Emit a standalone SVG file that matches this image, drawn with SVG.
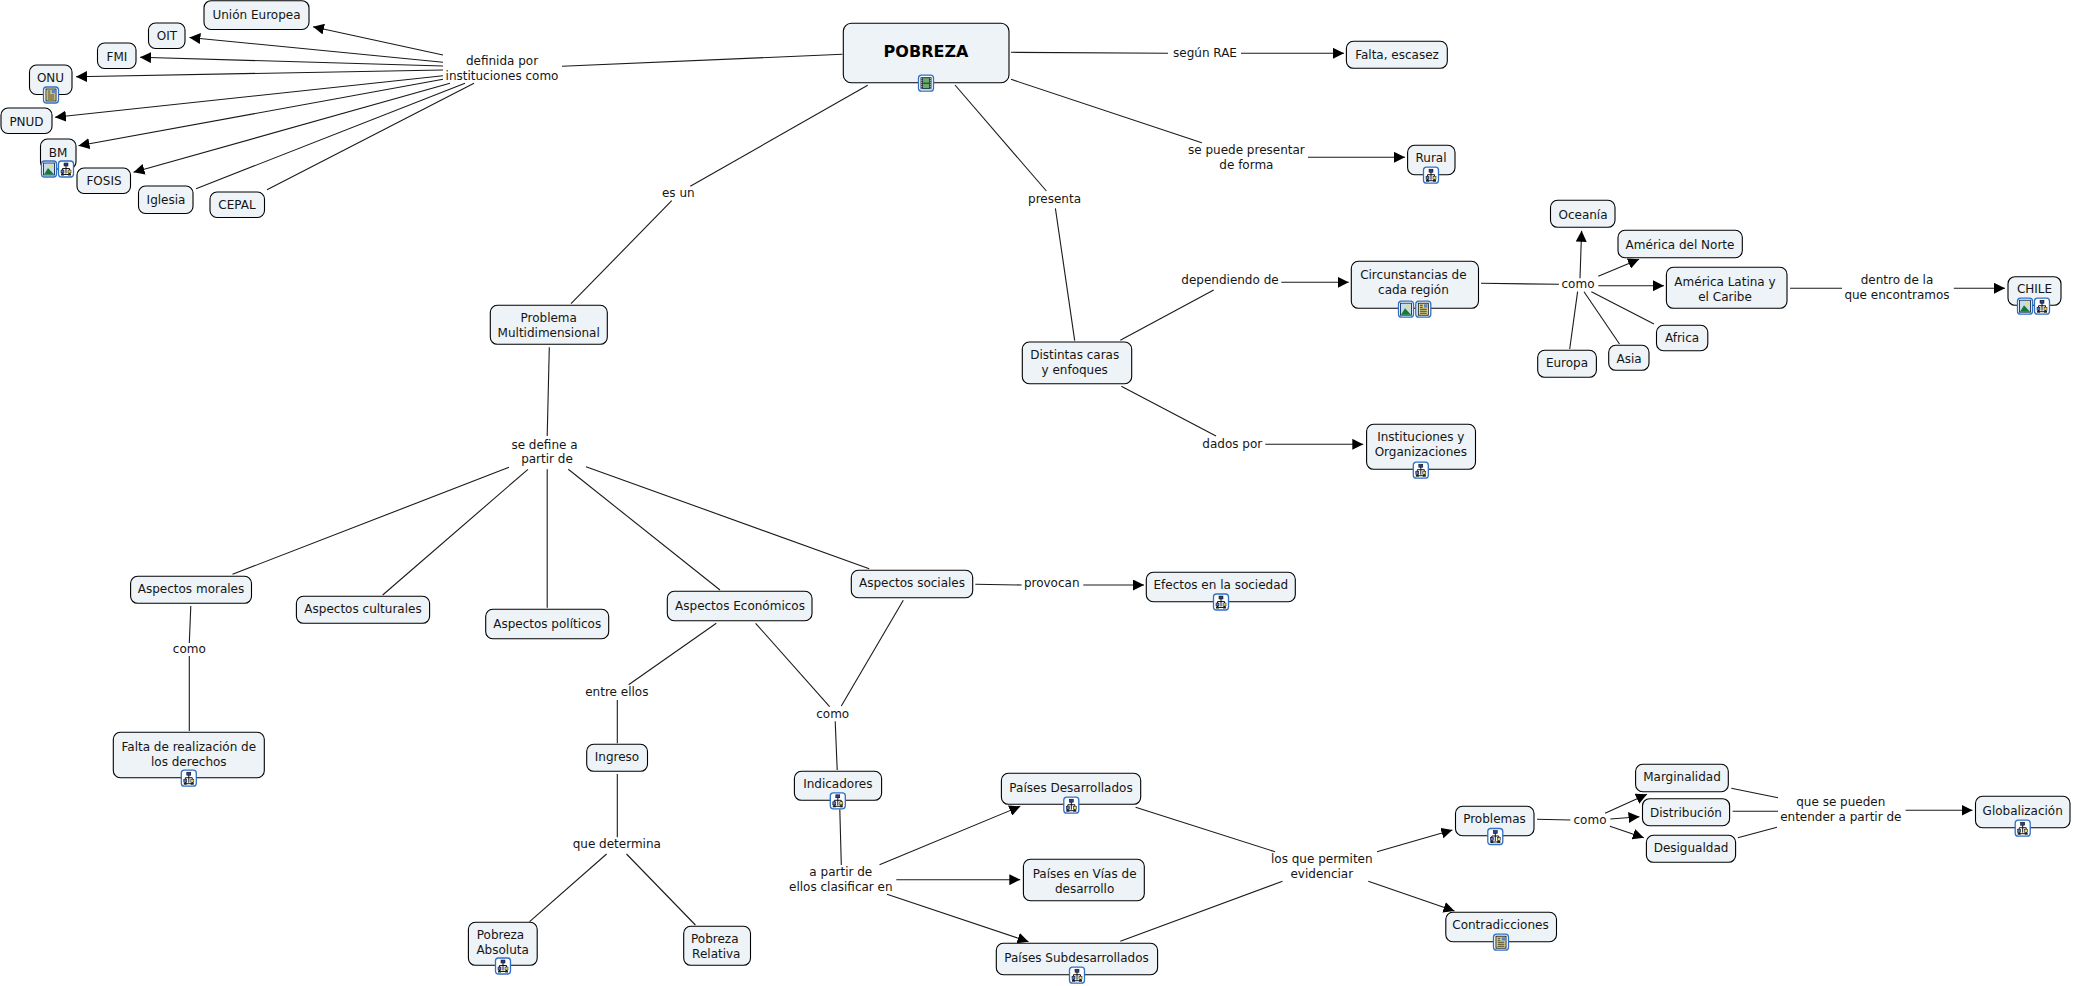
<svg xmlns="http://www.w3.org/2000/svg" width="2073" height="986" viewBox="0 0 2073 986">
<style>
text{font-family:"DejaVu Sans","Liberation Sans",sans-serif;font-size:12px;fill:#151515;text-anchor:middle}
.t{font-size:16px;font-weight:bold;fill:#000}
.n{fill:#edf3f6;stroke:#000;stroke-width:1.1}
.c line{stroke:#1a1a1a;stroke-width:1.1;fill:none}
.a{marker-end:url(#ah)}
.f{fill:#fff;stroke:#2f6fc4;stroke-width:1.3}
</style>
<defs>
<marker id="ah" markerUnits="userSpaceOnUse" markerWidth="11" markerHeight="11" refX="11" refY="5.5" orient="auto"><path d="M0,0L11,5.5L0,11z" fill="#000"/></marker>
<symbol id="imap" width="16" height="17" viewBox="0 0 16 17" overflow="visible">
<rect class="f" x="0.5" y="0.5" width="15" height="16" rx="3"/>
<path d="M8 5V8M4.500 10V8H11.500V10M8 8V13M4.500 12V14H11.500V12" fill="none" stroke="#000" stroke-width="0.9"/>
<rect x="6" y="2.500" width="4" height="3" fill="#2a3f8f" stroke="#000" stroke-width="0.5"/>
<rect x="3" y="9.500" width="3" height="3" fill="#4d78c0" stroke="#000" stroke-width="0.5"/>
<rect x="10" y="9.500" width="3" height="3" fill="#e8d66a" stroke="#000" stroke-width="0.5"/>
<rect x="3" y="13" width="3" height="2" fill="#222"/><rect x="10" y="13" width="3" height="2" fill="#222"/>
</symbol>
<symbol id="iimg" width="16" height="17" viewBox="0 0 16 17" overflow="visible">
<rect class="f" x="0.5" y="0.5" width="15" height="16" rx="3"/>
<rect x="2.500" y="2.500" width="11" height="12" fill="#c6dcec" stroke="#12305c" stroke-width="0.9"/>
<circle cx="10" cy="6" r="1.800" fill="#f0dc6a"/>
<path d="M3 14L7 7.500L13 14z" fill="#157a32"/>
</symbol>
<symbol id="idoc" width="16" height="17" viewBox="0 0 16 17" overflow="visible">
<rect class="f" x="0.5" y="0.5" width="15" height="16" rx="3"/>
<rect x="3" y="2.500" width="10" height="12" fill="#f6ec9a" stroke="#111" stroke-width="0.9"/>
<rect x="8.500" y="3.500" width="3.500" height="3.500" fill="#5f84bd"/>
<path d="M4.500 4.500H7.500M4.500 6.500H7.500M4.500 8.500H11.500M4.500 10.500H11.500M4.500 12.500H11.500" stroke="#111" stroke-width="0.9"/>
</symbol>
<symbol id="ivid" width="16" height="17" viewBox="0 0 16 17" overflow="visible">
<rect class="f" x="0.5" y="0.5" width="15" height="16" rx="3"/>
<rect x="2.500" y="2.500" width="11" height="12" fill="#1d2b3a"/>
<rect x="5" y="3.500" width="6" height="4.500" fill="#66ad6a"/><rect x="5" y="9" width="6" height="4.500" fill="#66ad6a"/>
<path d="M3.700 3.500V14M12.300 3.500V14" stroke="#dfe8ee" stroke-width="1.100" stroke-dasharray="1 1"/>
</symbol>
</defs>
<g id="connectors" class="c">
<line class="a" x1="443" y1="55" x2="313" y2="26.700"/>
<line class="a" x1="443" y1="62.300" x2="189.400" y2="37.500"/>
<line class="a" x1="443" y1="66" x2="140" y2="57.300"/>
<line class="a" x1="443" y1="70" x2="76" y2="76.700"/>
<line class="a" x1="443" y1="75.700" x2="55" y2="117.300"/>
<line class="a" x1="443" y1="79.300" x2="78.500" y2="145.700"/>
<line class="a" x1="450" y1="83.300" x2="133.500" y2="172.300"/>
<line x1="465" y1="83.300" x2="196" y2="188.700"/>
<line x1="474" y1="83.300" x2="267" y2="189.700"/>
<line x1="562" y1="66.300" x2="842.400" y2="54.300"/>
<line x1="1011" y1="52.300" x2="1168" y2="53.300"/>
<line class="a" x1="1241" y1="53.300" x2="1344" y2="53.300"/>
<line x1="1011" y1="79.300" x2="1201.800" y2="142.700"/>
<line class="a" x1="1308" y1="157.300" x2="1405" y2="157.300"/>
<line x1="867.700" y1="85.300" x2="690.300" y2="186.300"/>
<line x1="671.700" y1="200.700" x2="571" y2="303.700"/>
<line x1="955" y1="85" x2="1046.400" y2="191"/>
<line x1="1055.400" y1="208.300" x2="1074.700" y2="340.700"/>
<line x1="1120.300" y1="340.300" x2="1213.700" y2="290"/>
<line class="a" x1="1281.300" y1="282.300" x2="1348.700" y2="282.300"/>
<line x1="1121.300" y1="386.300" x2="1216" y2="436"/>
<line class="a" x1="1265.300" y1="444.300" x2="1363.300" y2="444.300"/>
<line x1="1481" y1="283.300" x2="1559" y2="284.300"/>
<line class="a" x1="1580" y1="278.300" x2="1581.600" y2="230.700"/>
<line class="a" x1="1598.300" y1="276.300" x2="1639" y2="259.300"/>
<line class="a" x1="1598.300" y1="285.700" x2="1664" y2="285.700"/>
<line x1="1591.400" y1="291.700" x2="1654" y2="324"/>
<line x1="1584" y1="291.700" x2="1619.500" y2="344"/>
<line x1="1577.600" y1="291.700" x2="1569.700" y2="349"/>
<line x1="1790" y1="288.300" x2="1842" y2="288.300"/>
<line class="a" x1="1953.800" y1="288.300" x2="2005" y2="288.300"/>
<line x1="549.300" y1="347.300" x2="547.200" y2="436"/>
<line x1="509" y1="467.300" x2="232.500" y2="574.300"/>
<line x1="528" y1="469.300" x2="382.700" y2="595"/>
<line x1="547.200" y1="469.300" x2="547.200" y2="607.700"/>
<line x1="568.300" y1="469.300" x2="720" y2="590"/>
<line x1="586" y1="466.700" x2="869.200" y2="568.700"/>
<line x1="190.800" y1="606" x2="189.300" y2="643"/>
<line x1="189.300" y1="656" x2="189.300" y2="731"/>
<line x1="716.300" y1="623.300" x2="628.600" y2="684.700"/>
<line x1="617.300" y1="700" x2="617.300" y2="743.300"/>
<line x1="617.300" y1="774" x2="617.300" y2="837.300"/>
<line x1="606.600" y1="854" x2="529.600" y2="921.700"/>
<line x1="626.500" y1="854" x2="695.400" y2="925"/>
<line x1="755.600" y1="623.300" x2="829.600" y2="706.700"/>
<line x1="903.300" y1="600.300" x2="841.300" y2="706"/>
<line x1="835.200" y1="721.300" x2="837.200" y2="770"/>
<line x1="839.800" y1="809.300" x2="841.300" y2="865"/>
<line x1="975.300" y1="584.300" x2="1021.700" y2="585"/>
<line class="a" x1="1083.300" y1="585" x2="1144" y2="585"/>
<line class="a" x1="879.500" y1="864.700" x2="1020.300" y2="806.300"/>
<line class="a" x1="896.300" y1="879.700" x2="1020.300" y2="879.700"/>
<line class="a" x1="887" y1="894.300" x2="1028.500" y2="941.700"/>
<line x1="1135.600" y1="807.300" x2="1275" y2="851.700"/>
<line x1="1120.300" y1="941.300" x2="1282.500" y2="881.300"/>
<line class="a" x1="1377" y1="851.700" x2="1452.400" y2="830"/>
<line class="a" x1="1368.300" y1="881.300" x2="1454.500" y2="911"/>
<line x1="1537" y1="819.300" x2="1570.400" y2="820"/>
<line class="a" x1="1605" y1="813.300" x2="1647" y2="794.300"/>
<line class="a" x1="1610.300" y1="819" x2="1639.500" y2="816.700"/>
<line class="a" x1="1609.900" y1="826.300" x2="1643.800" y2="837.700"/>
<line x1="1731.300" y1="788.300" x2="1778" y2="797.700"/>
<line x1="1732.600" y1="811.300" x2="1778" y2="811.300"/>
<line x1="1737.800" y1="837.700" x2="1777" y2="827.300"/>
<line class="a" x1="1905.600" y1="810.300" x2="1972.500" y2="810.300"/>
</g>
<g id="n-pobreza"><rect class="n" x="843.300" y="23.300" width="165.700" height="59.400" rx="8"/><text class="t" x="926" y="57">POBREZA</text><use href="#ivid" x="918" y="74.700"/></g>
<g id="n-ue"><rect class="n" x="204" y="0.700" width="105" height="28.800" rx="7"/><text x="256.500" y="19">Unión Europea</text></g>
<g id="n-oit"><rect class="n" x="148.500" y="23" width="36.500" height="25.500" rx="7"/><text x="167" y="40">OIT</text></g>
<g id="n-fmi"><rect class="n" x="97.500" y="43" width="38.500" height="25.500" rx="7"/><text x="117" y="61">FMI</text></g>
<g id="n-onu"><rect class="n" x="29.500" y="65" width="42.500" height="29.500" rx="7"/><text x="50.500" y="82">ONU</text><use href="#idoc" x="43" y="86.500"/></g>
<g id="n-pnud"><rect class="n" x="1" y="108" width="51" height="25.500" rx="7"/><text x="26.500" y="126">PNUD</text></g>
<g id="n-bm"><rect class="n" x="40.500" y="139" width="35.500" height="30" rx="7"/><text x="58" y="157">BM</text><use href="#iimg" x="41" y="160.500"/><use href="#imap" x="58" y="160.500"/></g>
<g id="n-fosis"><rect class="n" x="77" y="168" width="53.500" height="25.500" rx="7"/><text x="104" y="185">FOSIS</text></g>
<g id="n-iglesia"><rect class="n" x="138.500" y="186" width="54.500" height="27.500" rx="7"/><text x="166" y="203.500">Iglesia</text></g>
<g id="n-cepal"><rect class="n" x="210" y="192" width="54.500" height="25.500" rx="7"/><text x="237" y="209">CEPAL</text></g>
<g id="l-definida"><text x="502" y="65">definida por</text><text x="502" y="79.700">instituciones como</text></g>
<g id="l-segun"><text x="1205" y="57">según RAE</text></g>
<g id="n-falta"><rect class="n" x="1346.400" y="41.300" width="100.900" height="27" rx="7"/><text x="1397" y="58.500">Falta, escasez</text></g>
<g id="l-puede"><text x="1246.400" y="154.300">se puede presentar</text><text x="1246.400" y="169">de forma</text></g>
<g id="n-rural"><rect class="n" x="1407.600" y="145.300" width="47.400" height="29.400" rx="7"/><text x="1431" y="162">Rural</text><use href="#imap" x="1423" y="166.700"/></g>
<g id="l-esun"><text x="678.300" y="197">es un</text></g>
<g id="l-presenta"><text x="1054.500" y="203">presenta</text></g>
<g id="n-problema"><rect class="n" x="490.300" y="305.300" width="117" height="39" rx="7"/><text x="548.700" y="322.300">Problema</text><text x="548.700" y="337">Multidimensional</text></g>
<g id="n-distintas"><rect class="n" x="1022.300" y="342" width="109.400" height="41.700" rx="7"/><text x="1074.700" y="359">Distintas caras</text><text x="1074.700" y="373.500">y enfoques</text></g>
<g id="l-dependiendo"><text x="1230" y="284.300">dependiendo de</text></g>
<g id="l-dados"><text x="1232.300" y="447.500">dados por</text></g>
<g id="n-circ"><rect class="n" x="1351.300" y="261.300" width="127.200" height="47" rx="7"/><text x="1413.400" y="279.300">Circunstancias de</text><text x="1413.400" y="294">cada región</text><use href="#iimg" x="1398" y="300.700"/><use href="#idoc" x="1415.300" y="300.700"/></g>
<g id="l-como1"><text x="1578" y="288">como</text></g>
<g id="n-oceania"><rect class="n" x="1550.500" y="200.300" width="64.500" height="27" rx="7"/><text x="1583" y="219">Oceanía</text></g>
<g id="n-norte"><rect class="n" x="1618" y="230.300" width="124.300" height="27.400" rx="7"/><text x="1680" y="248.800">América del Norte</text></g>
<g id="n-latina"><rect class="n" x="1666.400" y="267.300" width="120.600" height="41" rx="7"/><text x="1725" y="286">América Latina y</text><text x="1725" y="300.500">el Caribe</text></g>
<g id="n-africa"><rect class="n" x="1656.500" y="325.300" width="51.300" height="25.400" rx="7"/><text x="1682" y="342">Africa</text></g>
<g id="n-asia"><rect class="n" x="1608.700" y="345.300" width="40.300" height="25" rx="7"/><text x="1629" y="363">Asia</text></g>
<g id="n-europa"><rect class="n" x="1537.700" y="350.300" width="58.700" height="27" rx="7"/><text x="1567" y="367">Europa</text></g>
<g id="l-dentro"><text x="1897" y="284.300">dentro de la</text><text x="1897" y="299">que encontramos</text></g>
<g id="n-chile"><rect class="n" x="2008" y="276.700" width="53" height="28.600" rx="7"/><text x="2034.500" y="292.800">CHILE</text><use href="#iimg" x="2017" y="297.700"/><use href="#imap" x="2034" y="297.700"/></g>
<g id="n-inst"><rect class="n" x="1366.600" y="424.300" width="108.900" height="45" rx="7"/><text x="1420.800" y="441">Instituciones y</text><text x="1420.800" y="455.500">Organizaciones</text><use href="#imap" x="1412.800" y="461.700"/></g>
<g id="l-define"><text x="544.500" y="448.500">se define a</text><text x="547" y="463">partir de</text></g>
<g id="n-morales"><rect class="n" x="130.600" y="576.300" width="120.900" height="27" rx="7"/><text x="191" y="593.300">Aspectos morales</text></g>
<g id="n-culturales"><rect class="n" x="296.400" y="596.300" width="133.200" height="27" rx="7"/><text x="363" y="613.300">Aspectos culturales</text></g>
<g id="n-politicos"><rect class="n" x="485.700" y="609.300" width="123" height="29.400" rx="7"/><text x="547.200" y="628">Aspectos políticos</text></g>
<g id="n-economicos"><rect class="n" x="667.300" y="591.300" width="144.700" height="29.400" rx="7"/><text x="740" y="610">Aspectos Económicos</text></g>
<g id="n-sociales"><rect class="n" x="851.300" y="570.300" width="121.400" height="27.400" rx="7"/><text x="912" y="587.300">Aspectos sociales</text></g>
<g id="l-provocan"><text x="1051.700" y="587">provocan</text></g>
<g id="n-efectos"><rect class="n" x="1146.300" y="572.300" width="149" height="29.400" rx="7"/><text x="1220.800" y="589">Efectos en la sociedad</text><use href="#imap" x="1213" y="593.500"/></g>
<g id="l-como2"><text x="189.300" y="653">como</text></g>
<g id="n-realizacion"><rect class="n" x="113.300" y="732.300" width="151" height="45.400" rx="7"/><text x="188.800" y="751">Falta de realización de</text><text x="188.800" y="765.500">los derechos</text><use href="#imap" x="180.800" y="769.700"/></g>
<g id="l-entre"><text x="616.800" y="696">entre ellos</text></g>
<g id="n-ingreso"><rect class="n" x="586.700" y="744.300" width="60.800" height="27" rx="7"/><text x="617" y="761">Ingreso</text></g>
<g id="l-determina"><text x="616.800" y="848">que determina</text></g>
<g id="n-absoluta"><rect class="n" x="468.400" y="922.300" width="68.800" height="43" rx="7"/><text x="500.500" y="939.300">Pobreza</text><text x="502.600" y="954">Absoluta</text><use href="#imap" x="495" y="957.500"/></g>
<g id="n-relativa"><rect class="n" x="683.700" y="926.300" width="66.800" height="39" rx="7"/><text x="714.800" y="943.300">Pobreza</text><text x="716.300" y="958">Relativa</text></g>
<g id="l-como3"><text x="832.700" y="718">como</text></g>
<g id="n-indicadores"><rect class="n" x="794.400" y="771.300" width="87.200" height="29" rx="7"/><text x="837.800" y="788.300">Indicadores</text><use href="#imap" x="829.800" y="792.300"/></g>
<g id="l-apartir"><text x="840.800" y="876.300">a partir de</text><text x="840.800" y="891">ellos clasificar en</text></g>
<g id="n-desarrollados"><rect class="n" x="1001.400" y="773.300" width="139.300" height="31" rx="7"/><text x="1071" y="792">Países Desarrollados</text><use href="#imap" x="1063.300" y="796.700"/></g>
<g id="n-vias"><rect class="n" x="1023.400" y="859.300" width="120.900" height="41.400" rx="7"/><text x="1084.600" y="878">Países en Vías de</text><text x="1084.600" y="892.500">desarrollo</text></g>
<g id="n-sub"><rect class="n" x="996.300" y="943.300" width="161.300" height="31.400" rx="7"/><text x="1076.500" y="962">Países Subdesarrollados</text><use href="#imap" x="1069" y="966.700"/></g>
<g id="l-permiten"><text x="1321.800" y="863.300">los que permiten</text><text x="1321.800" y="878">evidenciar</text></g>
<g id="n-problemas"><rect class="n" x="1455.500" y="806.300" width="78.500" height="29.400" rx="7"/><text x="1494.500" y="823.300">Problemas</text><use href="#imap" x="1487.300" y="828"/></g>
<g id="n-contra"><rect class="n" x="1445.800" y="912.300" width="110.700" height="29.400" rx="7"/><text x="1500.500" y="929.300">Contradicciones</text><use href="#idoc" x="1493" y="933.700"/></g>
<g id="l-como4"><text x="1590" y="824.300">como</text></g>
<g id="n-marginalidad"><rect class="n" x="1635.600" y="764.300" width="92.700" height="27.400" rx="7"/><text x="1682" y="781">Marginalidad</text></g>
<g id="n-distribucion"><rect class="n" x="1642.500" y="798.700" width="87.100" height="27" rx="7"/><text x="1686" y="817">Distribución</text></g>
<g id="n-desigualdad"><rect class="n" x="1646.400" y="835.300" width="89.200" height="27" rx="7"/><text x="1691" y="852">Desigualdad</text></g>
<g id="l-entender"><text x="1840.800" y="806.300">que se pueden</text><text x="1840.800" y="821">entender a partir de</text></g>
<g id="n-global"><rect class="n" x="1975.500" y="796.300" width="94.500" height="31.400" rx="7"/><text x="2022.700" y="815">Globalización</text><use href="#imap" x="2014.700" y="819.700"/></g>
</svg>
